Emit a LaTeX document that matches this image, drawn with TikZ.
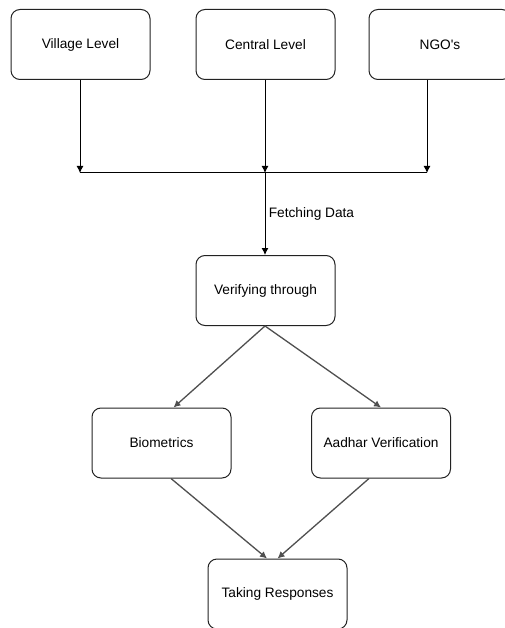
\documentclass[tikz,border=0pt]{standalone}
\usepackage{fontspec}
\setmainfont{Liberation Sans}
\usepackage{tikz}
\usetikzlibrary{arrows.meta}
\tikzset{>={Latex[length=7pt,width=7pt]}}
\definecolor{edgegray}{HTML}{4F4F4F}
\definecolor{boxline}{HTML}{222222}
\tikzset{levelbox/.style={draw=boxline, rounded corners=9pt, minimum width=139pt, minimum height=70pt, line width=1pt, font=\fontsize{13.7}{16}\selectfont}}

\begin{document}
\begin{tikzpicture}[x=1pt, y=-1pt, line width=1pt]
            \useasboundingbox (0,0) rectangle (504,628);
            \node[levelbox] (village) at (80.5,44.5) {Village Level};
            \node[levelbox] (central) at (265.5,44.5) {Central Level};
            \node[levelbox, minimum width=142pt] (ngo) at (440,44.5) {NGO\textquotesingle s};
            \coordinate (busL) at (80,173);
            \coordinate (busM) at (265,173);
            \coordinate (busR) at (427,173);
            \draw (busL) -- (busR);
            \draw[->] (village.south -| busL) -- (busL);
            \draw[->] (central.south -| busM) -- (busM);
            \draw[->] (ngo.south -| busR) -- (busR);
            \node[levelbox] (verify) at (265.5,290.5) {Verifying through};
            \draw[->] (busM) -- node[right, font=\fontsize{13.7}{16}\selectfont] {Fetching Data} (verify.north -| busM);
            \node[levelbox] (bio) at (161.5,443) {Biometrics};
            \node[levelbox] (aadhar) at (381,443) {Aadhar Verification};
            \node[levelbox] (responses) at (277.5,594) {Taking Responses};
            % gray links
            \draw[->, edgegray, line width=1.3pt] (verify.south -| busM) -- ([xshift=12pt]bio.north);
            \draw[->, edgegray, line width=1.3pt] (verify.south -| busM) -- (aadhar.north);
            \draw[->, edgegray, line width=1.3pt] ([xshift=9.5pt]bio.south) -- ([xshift=-10.5pt]responses.north);
            \draw[->, edgegray, line width=1.3pt] ([xshift=-12pt]aadhar.south) -- (responses.north);
        \end{tikzpicture}
\end{document}
